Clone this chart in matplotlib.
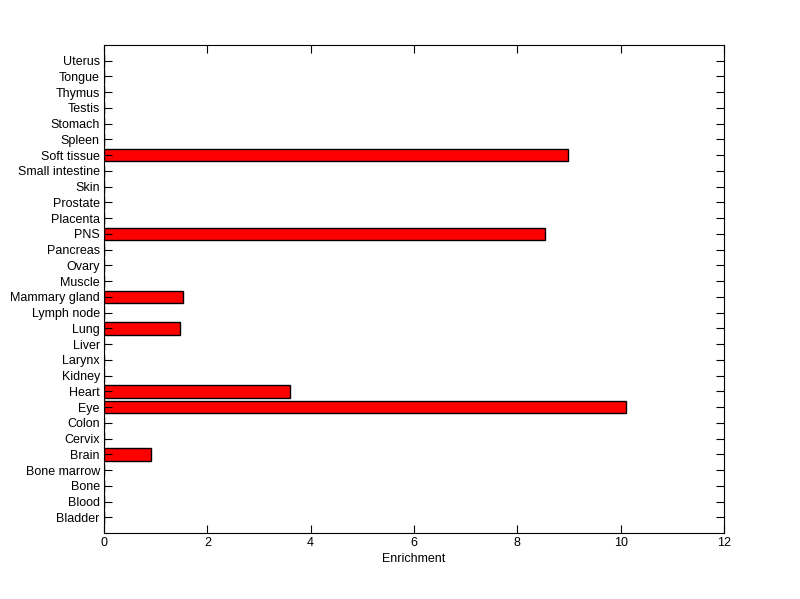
import numpy as np
import matplotlib.pyplot as plt

plt.rcParams['font.family'] = ['Liberation Sans', 'DejaVu Sans']

tissues = ['Bladder', 'Blood', 'Bone', 'Bone marrow', 'Brain', 'Cervix', 'Colon',
           'Eye', 'Heart', 'Kidney', 'Larynx', 'Liver', 'Lung', 'Lymph node',
           'Mammary gland', 'Muscle', 'Ovary', 'Pancreas', 'PNS', 'Placenta',
           'Prostate', 'Skin', 'Small intestine', 'Soft tissue', 'Spleen',
           'Stomach', 'Testis', 'Thymus', 'Tongue', 'Uterus']
enrichment = [0, 0, 0, 0, 0.90, 0, 0,
              10.10, 3.60, 0, 0, 0, 1.48, 0,
              1.52, 0, 0, 0, 8.53, 0,
              0, 0, 0, 8.99, 0,
              0, 0, 0, 0, 0]

pos = np.arange(1, len(tissues) + 1)

fig = plt.figure(figsize=(8, 5.99), dpi=100)
ax = fig.add_axes([0.13, 0.11, 0.775, 0.815])
ax.barh(pos, enrichment, height=0.8, color='red', edgecolor='black', linewidth=1.0)

ax.set_xlim(0, 12)
ax.set_ylim(0, len(tissues) + 1)
ax.set_xticks(np.arange(0, 13, 2))
ax.set_yticks(pos)
ax.set_yticklabels(tissues)
ax.set_xlabel('Enrichment', fontsize=9, labelpad=3)
ax.tick_params(direction='in', length=6, width=0.8, labelsize=9,
               top=True, right=True, pad=3)
for s in ax.spines.values():
    s.set_linewidth(0.8)

fig.savefig('out.png', dpi=100)
